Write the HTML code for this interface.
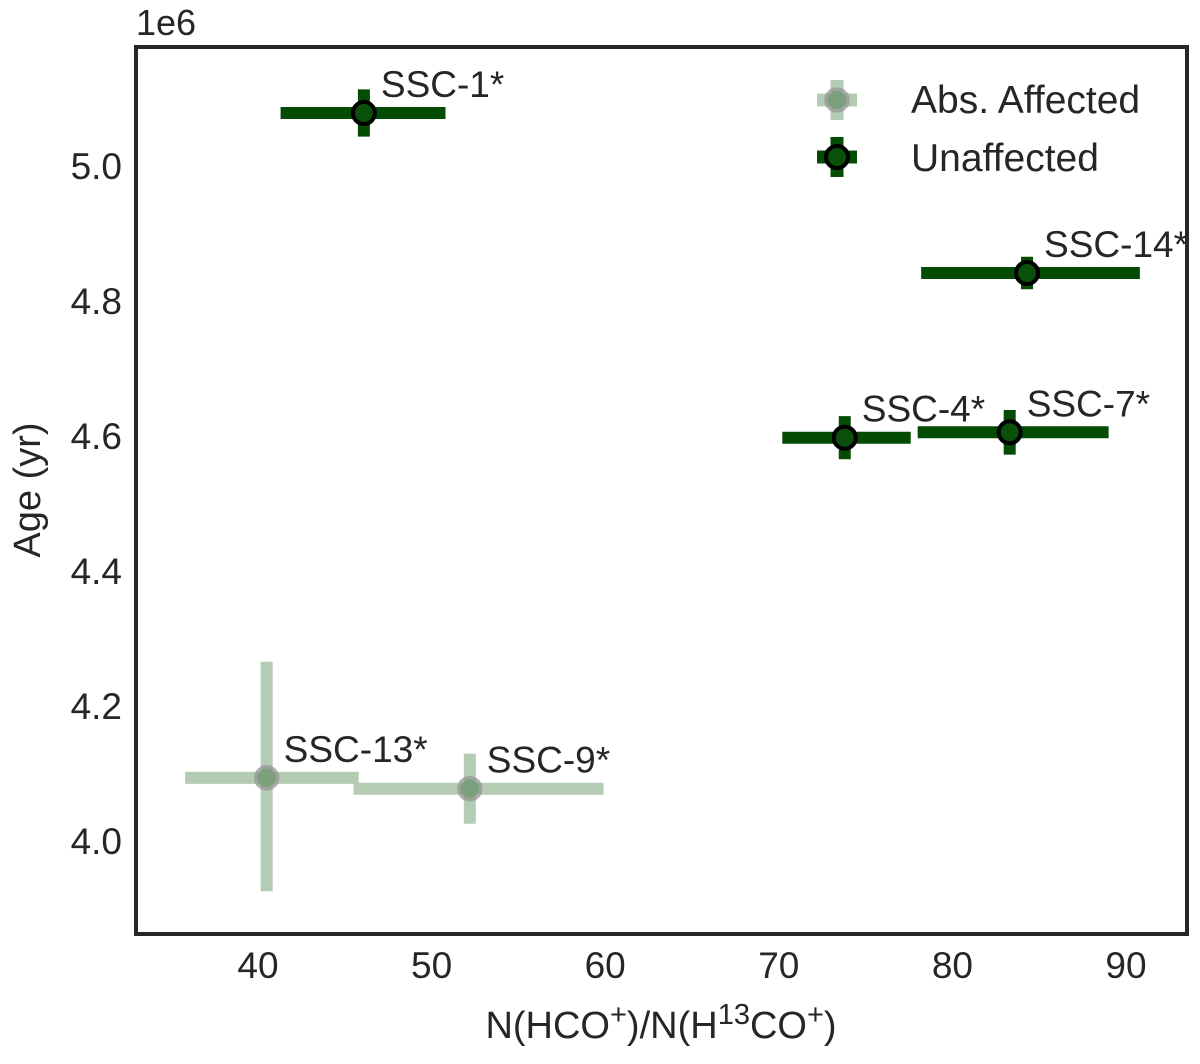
<!DOCTYPE html>
<html><head><meta charset="utf-8"><style>
body{margin:0;background:#fff;}
svg text{font-family:"Liberation Sans",sans-serif;fill:#262626;}
</style></head><body>
<svg id="chart" width="1200" height="1059" xmlns="http://www.w3.org/2000/svg">
<rect x="0" y="0" width="1200" height="1059" fill="#fff"/>
<g id="marks"></g>
<rect x="136" y="47" width="1051" height="887" fill="none" stroke="#262626" stroke-width="4"/>
<g id="ticks"></g>
<text x="136" y="35" font-size="36">1e6</text>
<text x="661" y="1038" font-size="38" text-anchor="middle">N(HCO<tspan dy="-14" font-size="29">+</tspan><tspan dy="14">)/N(H</tspan><tspan dy="-14" font-size="29">13</tspan><tspan dy="14">CO</tspan><tspan dy="-14" font-size="29">+</tspan><tspan dy="14">)</tspan></text>
<text transform="translate(40,490) rotate(-90)" font-size="38" text-anchor="middle">Age (yr)</text>
<g>
<g>
<line x1="817" y1="100" x2="857" y2="100" stroke="#b4ccb4" stroke-width="13"/>
<line x1="837" y1="80" x2="837" y2="120" stroke="#b4ccb4" stroke-width="13"/>
<circle cx="837" cy="100" r="11" fill="#6f956f" stroke="#9a9a9a" stroke-width="3.5" opacity="0.8"/>
<text x="911" y="113" font-size="39">Abs. Affected</text></g>
<g>
<line x1="817" y1="157" x2="857" y2="157" stroke="#044b04" stroke-width="13"/>
<line x1="837" y1="137" x2="837" y2="177" stroke="#044b04" stroke-width="13"/>
<circle cx="837" cy="157" r="11" fill="#0a4f0a" stroke="#000" stroke-width="4"/>
<text x="911" y="171" font-size="39">Unaffected</text></g>
</g>
</svg>
<script>
const labels=["SSC-1*","SSC-14*","SSC-4*","SSC-7*","SSC-13*","SSC-9*"];
const ratio=[46.1,84.3,73.8,83.3,40.5,52.2];
const ratioLo=[41.3,78.2,70.2,78.0,35.8,45.5];
const ratioHi=[50.8,90.8,77.6,89.0,45.8,59.9];
const age=[5.077,4.84,4.596,4.604,4.092,4.076];
const ageLo=[5.042,4.816,4.564,4.571,3.924,4.024];
const ageHi=[5.112,4.864,4.628,4.637,4.264,4.128];
const affected=[false,false,false,false,true,true];
const xTicks=[40,50,60,70,80,90];
const yTicks=[4.0,4.2,4.4,4.6,4.8,5.0];
const NS="http://www.w3.org/2000/svg";
const X=v=>258+(v-40)*17.36;
const Y=v=>840-(v-4.0)*675;
function mk(tag,attrs,parent){const e=document.createElementNS(NS,tag);for(const k in attrs)e.setAttribute(k,attrs[k]);parent.appendChild(e);return e;}
const marks=document.getElementById('marks'),ticks=document.getElementById('ticks');
xTicks.forEach(t=>{const e=mk('text',{x:X(t),y:978,'font-size':37,'text-anchor':'middle'},ticks);e.textContent=t;

});
yTicks.forEach(t=>{const e=mk('text',{x:122,y:Y(t)+14,'font-size':37,'text-anchor':'end'},ticks);e.textContent=t.toFixed(1);

});
labels.forEach((l,i)=>{
const g=mk('g',{},marks);


const a=affected[i];const col=a?'#b4ccb4':'#044b04';
mk('line',{x1:X(ratioLo[i]),x2:X(ratioHi[i]),y1:Y(age[i]),y2:Y(age[i]),stroke:col,'stroke-width':12},g);
mk('line',{x1:X(ratio[i]),x2:X(ratio[i]),y1:Y(ageLo[i]),y2:Y(ageHi[i]),stroke:col,'stroke-width':12},g);
if(a)mk('circle',{cx:X(ratio[i]),cy:Y(age[i]),r:11,fill:'#6f956f',stroke:'#9a9a9a','stroke-width':3.5,opacity:0.8},g);
else mk('circle',{cx:X(ratio[i]),cy:Y(age[i]),r:11,fill:'#0a4f0a',stroke:'#000','stroke-width':4},g);
const t=mk('text',{x:X(ratio[i])+17,y:Y(age[i])-16,'font-size':37},g);t.textContent=l;


});
</script>
</body></html>
